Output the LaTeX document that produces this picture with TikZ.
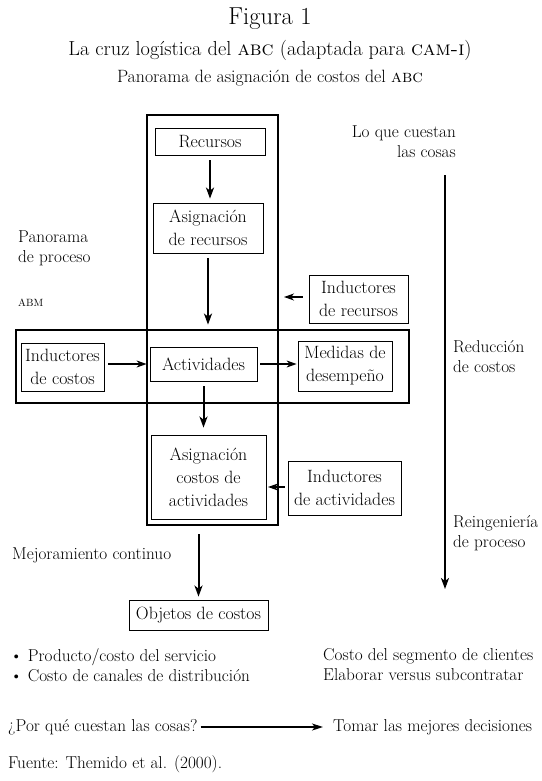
\documentclass[tikz,border=0pt]{standalone}
\usetikzlibrary{arrows.meta}
\begin{document}
\begin{tikzpicture}[x=1pt,y=-1pt,
  box/.style={draw, line width=0.8pt, font=\fontsize{17.8}{23}\selectfont, align=center, inner sep=0pt},
  bigbox/.style={draw, line width=2.2pt, inner sep=0pt},
  thick arrow/.style={line width=2pt, -{Stealth[length=11pt,width=8pt,inset=3pt]}},
  thin arrow/.style={line width=1.2pt, -{Stealth[length=10pt,width=7pt,inset=3pt]}},
  lbl/.style={font=\fontsize{17.2}{20}\selectfont, inner sep=0pt, align=left}
]
\useasboundingbox (0,0) rectangle (541,781);

% titles
\node[inner sep=0pt, font=\fontsize{24.5}{28}\selectfont] (t1) at (270,19) {Figura 1};
\node[inner sep=0pt, font=\fontsize{20.3}{24}\selectfont] (t2) at (270,50) {La cruz logística del \textsc{abc} (adaptada para \textsc{cam-i})};
\node[inner sep=0pt, font=\fontsize{17.8}{20}\selectfont] (t3) at (270,78) {Panorama de asignación de costos del \textsc{abc}};

% big rectangles
\node[bigbox, minimum width=131pt, minimum height=410pt] (vert) at (212.5,320) {};
\node[bigbox, minimum width=393pt, minimum height=73pt] (horz) at (212.5,366.5) {};

% boxes
\node[box, minimum width=110pt, minimum height=27pt] (rec) at (210,141.5) {Recursos};
\node[box, minimum width=110pt, minimum height=50pt] (asig) at (208,228) {Asignación\\de recursos};
\node[box, minimum width=99pt, minimum height=48pt] (indrec) at (358.5,299) {Inductores\\de recursos};
\node[box, minimum width=83pt, minimum height=48pt] (indcos) at (62.5,367) {Inductores\\de costos};
\node[box, minimum width=107pt, minimum height=34pt] (act) at (203.5,364) {Actividades};
\node[box, minimum width=94pt, minimum height=50pt] (med) at (345,366) {Medidas de\\desempeño};
\node[box, minimum width=115pt, minimum height=84pt] (asigact) at (208.5,477) {Asignación\\costos de\\actividades};
\node[box, minimum width=113pt, minimum height=54pt] (indact) at (344.5,488) {Inductores\\de actividades};
\node[box, minimum width=139pt, minimum height=30pt] (obj) at (198.5,615) {Objetos de costos};

% arrows in the cross
\draw[thick arrow, shorten <=5pt, shorten >=4pt] (rec.south) -- (rec.south |- asig.north);
\draw[thick arrow, shorten <=5pt, shorten >=22pt] (asig.south) -- (asig.south |- act.north);
\coordinate (irtip) at (284,297);
\draw[thin arrow, shorten <=6pt] (indrec.west |- irtip) -- (irtip);
\draw[thin arrow, shorten <=4pt, shorten >=3pt] (indcos.east |- act) -- (act.west);
\draw[thin arrow, shorten <=3pt, shorten >=1pt] (act.east) -- (med.west |- act);
\draw[thick arrow, shorten <=5pt, shorten >=7pt] (act.south) -- (act.south |- asigact.north);
\coordinate (iatip) at (268,487);
\draw[thin arrow, shorten <=3pt] (indact.west |- iatip) -- (iatip);
\draw[thick arrow, shorten <=8pt, shorten >=3pt] (obj.north |- vert.south) -- (obj.north);

% right vertical arrow
\coordinate (rtop) at (445,175);
\coordinate (rbot) at (445,589);
\draw[thick arrow] (rtop) -- (rbot);

% labels
\node[lbl, align=right, anchor=north east] (lq) at (456,126) {Lo que cuestan\\las cosas};
\node[lbl, anchor=north west] (pp) at (18,231) {Panorama\\de proceso};
\node[inner sep=0pt, anchor=west, font=\fontsize{10.5}{12}\selectfont] (abm) at (18,303) {ABM};
\node[lbl, anchor=north west] (rc) at (453,340) {Reducción\\de costos};
\node[lbl, anchor=north west] (rp) at (453,515) {Reingeniería\\de proceso};
\node[lbl, anchor=west] (mc) at (12,555) {Mejoramiento continuo};
\node[lbl, anchor=north west] (b1) at (10,648) {\textbullet\ Producto/costo del servicio\\\textbullet\ Costo de canales de distribución};
\node[lbl, anchor=north west] (b2) at (323,648) {Costo del segmento de clientes\\Elaborar versus subcontratar};
\node[lbl, anchor=west] (pq) at (8,727) {¿Por qué cuestan las cosas?};
\node[lbl, anchor=west] (tm) at (333,727) {Tomar las mejores decisiones};
\draw[line width=1.4pt, -{Stealth[length=11pt,width=7pt,inset=3pt]}, shorten <=3pt, shorten >=10pt] (pq.east) -- (tm.west);
\node[lbl, anchor=west] (fu) at (8,764) {Fuente: Themido et al. (2000).};
\end{tikzpicture}
\end{document}
